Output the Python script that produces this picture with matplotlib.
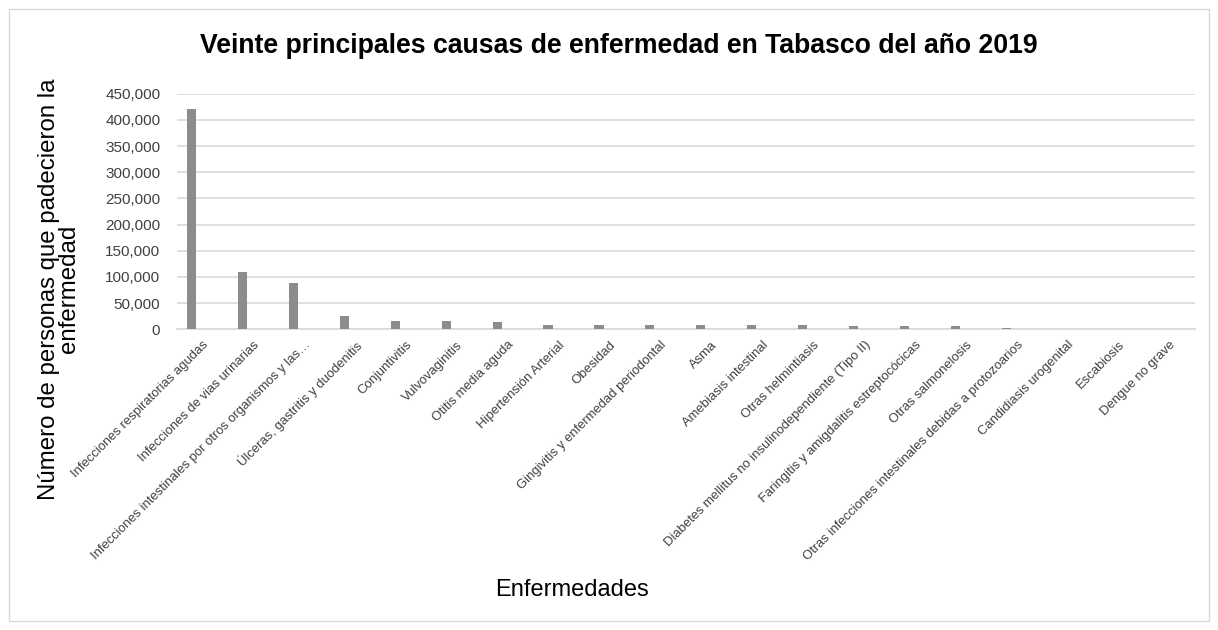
import matplotlib
matplotlib.use("Agg")
import matplotlib.pyplot as plt
from matplotlib.ticker import FuncFormatter
from matplotlib.patches import Rectangle

plt.rcParams['font.family'] = ['Liberation Sans', 'DejaVu Sans']

categories = [
    "Infecciones respiratorias agudas",
    "Infecciones de vias urinarias",
    "Infecciones intestinales por otros organismos y las…",
    "Úlceras, gastritis y duodenitis",
    "Conjuntivitis",
    "Vulvovaginitis",
    "Otitis media aguda",
    "Hipertensión Arterial",
    "Obesidad",
    "Gingivitis y enfermedad periodontal",
    "Asma",
    "Amebiasis intestinal",
    "Otras helmintiasis",
    "Diabetes mellitus no insulinodependiente (Tipo II)",
    "Faringitis y amigdalitis estreptocócicas",
    "Otras salmonelosis",
    "Otras infecciones intestinales debidas a protozoarios",
    "Candidiasis urogenital",
    "Escabiosis",
    "Dengue no grave",
]
values = [420000, 109000, 88000, 25400, 15300, 15300, 14000, 8300, 8300, 8300,
          7600, 7600, 7600, 6300, 6300, 6300, 2500, 1500, 1500, 1500]
yticks = [0, 50000, 100000, 150000, 200000, 250000, 300000, 350000, 400000, 450000]

title = "Veinte principales causas de enfermedad en Tabasco del año 2019"
ylabel = "Número de personas que padecieron la\nenfermedad"
xlabel = "Enfermedades"

W, H = 1218, 630
fig = plt.figure(figsize=(W / 100, H / 100), dpi=100)
fig.patch.set_facecolor("white")
fig.patches.append(Rectangle((9 / W, 9 / H), 1 - 18 / W, 1 - 18 / H, transform=fig.transFigure,
                             fill=False, edgecolor="#d9d9d9", linewidth=1.0, zorder=0))

left, right = 177 / W, 1195 / W
bottom, top = 1 - 329.3 / H, 1 - 93.7 / H
ax = fig.add_axes([left, bottom, right - left, top - bottom])

x = list(range(len(categories)))
offset = -0.21
ax.bar([i + offset for i in x], values, width=0.18, color="#8c8c8c", zorder=3)

ax.set_xlim(-0.5, len(categories) - 0.5)
ax.set_ylim(0, 450000)
ax.set_yticks(yticks)
ax.yaxis.set_major_formatter(FuncFormatter(lambda v, p: f"{int(v):,}"))
ax.grid(axis="y", color="#d9d9d9", linewidth=1.2, zorder=0)
for s in ["top", "right", "left"]:
    ax.spines[s].set_visible(False)
ax.spines["bottom"].set_color("#d9d9d9")
ax.spines["bottom"].set_linewidth(1.2)
ax.tick_params(axis="both", length=0, colors="#404040")
ax.tick_params(axis="y", labelsize=11, pad=12)
ax.set_xticks(x)
ax.set_xticklabels(categories, rotation=45, ha="right", rotation_mode="anchor",
                   fontsize=9.4, color="#404040")
ax.tick_params(axis="x", pad=7)

fig.text(619 / W, 1 - 46 / H, title, ha="center", va="center",
         fontsize=19.2, fontweight="bold", color="black")
fig.text(59 / W, 1 - 289 / H, ylabel, rotation=90, ha="center", va="center",
         fontsize=17.3, color="black", linespacing=0.9)
fig.text(572 / W, 1 - 590 / H, xlabel, ha="center", va="center", fontsize=17, color="black")

fig.savefig("out.png", dpi=100, facecolor="white")
